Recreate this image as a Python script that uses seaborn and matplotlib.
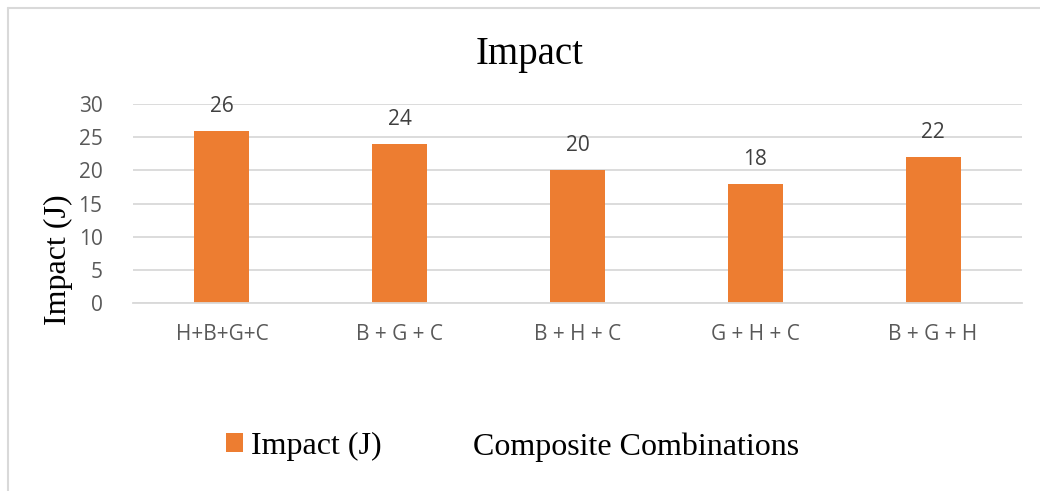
import matplotlib
matplotlib.use("Agg")
import matplotlib.pyplot as plt
from matplotlib.patches import Patch
from matplotlib.lines import Line2D
import seaborn as sns

# data
categories = ["H+B+G+C", "B + G + C", "B + H + C", "G + H + C", "B + G + H"]
impact = [26, 24, 20, 18, 22]
yticks = [0, 5, 10, 15, 20, 25, 30]

bar_color = "#ED7D31"
grid_color = "#D9D9D9"
tick_color = "#595959"

sns.set_style("white")
plt.rcParams["font.family"] = ["Open Sans", "DejaVu Sans"]
serif = ["Liberation Serif", "DejaVu Serif"]

fig = plt.figure(figsize=(10.4, 4.91), dpi=100)
ax = fig.add_axes([133 / 1040, 1 - 303 / 491, 889 / 1040, 199 / 491])

sns.barplot(x=categories, y=impact, color=bar_color, saturation=1,
            width=0.31, linewidth=0, ax=ax)

ax.set_xlim(-0.5, len(categories) - 0.5)
ax.set_ylim(0, 30)
ax.set_yticks(yticks)
ax.yaxis.grid(True, color=grid_color, linewidth=1.3)
ax.set_axisbelow(True)
for side in ["top", "right", "left"]:
    ax.spines[side].set_visible(False)
ax.spines["bottom"].set_color(grid_color)
ax.spines["bottom"].set_linewidth(1.3)
ax.tick_params(axis="x", length=0, pad=15, labelsize=15, labelcolor=tick_color)
ax.tick_params(axis="y", length=0, pad=22, labelsize=15, labelcolor=tick_color)

# value labels above bars
ax.bar_label(ax.containers[0], labels=[str(v) for v in impact], padding=10,
             fontsize=15, color="#404040")

ax.set_title("Impact", family=serif, fontsize=28, color="black",
             x=0.4466, y=1.2, pad=0)

ax.set_ylabel("Impact (J)", family=serif, fontsize=23, color="black")
ax.yaxis.label.set_va("center")
ax.yaxis.set_label_coords(-0.084, 0.216)

ax.set_xlabel("Composite Combinations", family=serif, fontsize=23, color="black")
ax.xaxis.label.set_va("center")
ax.xaxis.set_label_coords(0.566, -0.725)

handle = Patch(facecolor=bar_color, edgecolor="none")
fig.legend(handles=[handle], labels=["Impact (J)"], loc="center left",
           bbox_to_anchor=(226 / 1040, 1 - 446 / 491), frameon=False,
           prop={"family": serif, "size": 23}, handlelength=0.53,
           handleheight=0.53, handletextpad=0.25, borderpad=0, borderaxespad=0,
           labelcolor="black")

# outer chart border (left and top visible)
fig.add_artist(Line2D([7.5 / 1040, 7.5 / 1040], [0, 1 - 7.5 / 491],
                      transform=fig.transFigure, color=grid_color, linewidth=1.5))
fig.add_artist(Line2D([7.5 / 1040, 1], [1 - 7.5 / 491, 1 - 7.5 / 491],
                      transform=fig.transFigure, color=grid_color, linewidth=1.5))

fig.savefig("out.png", dpi=100)
